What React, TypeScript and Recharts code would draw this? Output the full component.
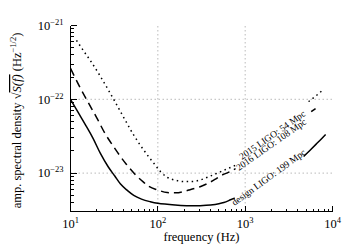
import React from 'react';
import { LineChart, Line, XAxis, YAxis, ReferenceLine, ReferenceDot } from 'recharts';

const FONT = '"Liberation Serif", "Times New Roman", Times, serif';

// axis ranges
const X_MIN = 10;
const X_MAX = 10000;
const Y_MIN = 3.02e-24;
const Y_MAX = 1e-21;

// tick positions (log axes)
const xTicks = [
  10, 20, 30, 40, 50, 60, 70, 80, 90,
  100, 200, 300, 400, 500, 600, 700, 800, 900,
  1000, 2000, 3000, 4000, 5000, 6000, 7000, 8000, 9000, 10000,
];
const yTicks = [
  4e-24, 5e-24, 6e-24, 7e-24, 8e-24, 9e-24,
  1e-23, 2e-23, 3e-23, 4e-23, 5e-23, 6e-23, 7e-23, 8e-23, 9e-23,
  1e-22, 2e-22, 3e-22, 4e-22, 5e-22, 6e-22, 7e-22, 8e-22, 9e-22, 1e-21,
];
const gridFreqs = [100, 1000];
const gridAsds = [1e-22, 1e-23];

// 2015 LIGO (dotted), split where the label sits
const o1FreqLow = [11.7, 14, 17, 21.7, 27, 33.7, 42, 52.3, 60, 69, 80, 90, 107, 128, 160, 199, 250, 308, 380, 479, 620, 780];
const o1AsdLow = [6.3e-22, 4.6e-22, 3.3e-22, 2.1e-22, 1.35e-22, 8.5e-23, 5.3e-23, 3.35e-23, 2.6e-23, 2.05e-23, 1.62e-23, 1.36e-23, 1.05e-23, 8.8e-24, 8.0e-24, 7.7e-24, 7.7e-24, 8.1e-24, 8.9e-24, 1.0e-23, 1.14e-23, 1.28e-23];
const o1FreqHigh = [5320, 6500, 7950];
const o1AsdHigh = [9.3e-23, 1.12e-22, 1.37e-22];

// 2016 LIGO (dashed)
const o2FreqLow = [10, 13, 16, 20, 25, 31, 37, 44, 55, 68, 79, 100, 128, 160, 227, 300, 368, 450, 523, 650, 776];
const o2AsdLow = [2.63e-22, 1.41e-22, 9.0e-23, 5.6e-23, 3.4e-23, 2.3e-23, 1.7e-23, 1.3e-23, 9.6e-24, 7.6e-24, 6.6e-24, 5.9e-24, 5.46e-24, 5.4e-24, 5.9e-24, 6.5e-24, 7.2e-24, 8.2e-24, 9.2e-24, 1.03e-23, 1.15e-23];
const o2FreqHigh = [5700, 6400];
const o2AsdHigh = [6.8e-23, 7.5e-23];

// design LIGO (solid)
const dsFreqLow = [10, 12, 15, 18, 22, 27, 32, 37.4, 45, 53, 65, 82, 100, 128, 170, 237, 300, 402, 500, 570, 680, 760];
const dsAsdLow = [1e-22, 6.9e-23, 4.4e-23, 3.0e-23, 1.85e-23, 1.22e-23, 9.2e-24, 7.1e-24, 5.8e-24, 5.0e-24, 4.45e-24, 4.1e-24, 3.9e-24, 3.78e-24, 3.68e-24, 3.6e-24, 3.62e-24, 3.7e-24, 3.85e-24, 4.0e-24, 4.35e-24, 4.6e-24];
const dsFreqHigh = [4670, 5500, 6500, 7400, 8340];
const dsAsdHigh = [1.68e-23, 2.03e-23, 2.47e-23, 2.88e-23, 3.34e-23];

// curve labels and where they sit (data coords)
const curveNames = ['2015 LIGO: 54 Mpc', '2016 LIGO: 108 Mpc', 'design LIGO: 199 Mpc'];
const labelFreqs = [2040, 1980, 1850];
const labelAsds = [3.3e-23, 2.45e-23, 8.8e-24];
const labelAngles = [35, 35, 36];

const pts = (f: number[], s: number[]) => f.map((x, i) => ({ f: x, s: s[i] }));

function isDecade(v: number) {
  const l = Math.log10(v);
  return Math.abs(l - Math.round(l)) < 1e-6;
}

function expText(v: number) {
  const e = Math.round(Math.log10(v));
  return e < 0 ? `\u2212${-e}` : `${e}`;
}

// snap to pixel centres so the 1px tick marks stay crisp
const px = (v: number) => Math.round(v - 0.5) + 0.5;

const txt = { fontFamily: FONT, fill: '#000' };
const tickProps = { stroke: '#000', strokeWidth: 1, shapeRendering: 'crispEdges' as const };

function BottomTick({ x, y, payload }: any) {
  const major = isDecade(payload.value);
  const sx = px(x);
  return (
    <g>
      <line x1={sx} x2={sx} y1={y} y2={y - (major ? 5.5 : 3)} {...tickProps} />
      {major && (
        <text x={x} y={y + 16.2} textAnchor="middle" style={txt} fontSize={12.5}>
          10<tspan dy={-5} fontSize={8.5}>{expText(payload.value)}</tspan>
        </text>
      )}
    </g>
  );
}

function TopTick({ x, y, payload }: any) {
  const major = isDecade(payload.value);
  const sx = px(x);
  return <line x1={sx} x2={sx} y1={y} y2={y + (major ? 5.5 : 3)} {...tickProps} />;
}

function LeftTick({ x, y, payload }: any) {
  const major = isDecade(payload.value);
  const sy = px(y);
  return (
    <g>
      <line x1={x} x2={x + (major ? 6 : 3)} y1={sy} y2={sy} {...tickProps} />
      {major && (
        <text x={x - 7} y={y + 4.3} textAnchor="end" style={txt} fontSize={12.5}>
          10<tspan dy={-5} fontSize={8.5}>{expText(payload.value)}</tspan>
        </text>
      )}
    </g>
  );
}

function RightTick({ x, y, payload }: any) {
  const major = isDecade(payload.value);
  const sy = px(y);
  return <line x1={x} x2={x - (major ? 6 : 3)} y1={sy} y2={sy} {...tickProps} />;
}

const xTitle = (props: any) => {
  const vb = props.viewBox;
  return (
    <text x={vb.x + vb.width / 2} y={vb.y + 29} textAnchor="middle" style={txt} fontSize={12.5}>
      frequency (Hz)
    </text>
  );
};

const yTitle = (props: any) => {
  const vb = props.viewBox;
  const cy = vb.y + vb.height / 2 + 2;
  return (
    <text transform={`translate(21,${cy}) rotate(-90)`} textAnchor="middle" style={txt} fontSize={12.5}>
      amp. spectral density {'\u221A'}
      <tspan style={{ textDecoration: 'overline' }} fontStyle="italic">S(f)</tspan> (Hz
      <tspan dy={-5} fontSize={8.5}>{'\u22121/2'}</tspan>
      <tspan dy={5}>)</tspan>
    </text>
  );
};

const curveLabel = (text: string, angle: number) => (p: any) => (
  <text
    transform={`translate(${p.cx},${p.cy}) rotate(${-angle})`}
    textAnchor="middle"
    dy="0.35em"
    style={txt}
    fontSize={9.5}
  >
    {text}
  </text>
);

const axisLine = { stroke: '#000', strokeWidth: 1, shapeRendering: 'crispEdges' };

export default function App() {
  const series = [
    { data: pts(o1FreqLow, o1AsdLow), dash: '1.5 3.5' },
    { data: pts(o1FreqHigh, o1AsdHigh), dash: '1.5 3.5' },
    { data: pts(o2FreqLow, o2AsdLow), dash: '8 5' },
    { data: pts(o2FreqHigh, o2AsdHigh), dash: '8 5' },
    { data: pts(dsFreqLow, dsAsdLow), dash: undefined },
    { data: pts(dsFreqHigh, dsAsdHigh), dash: undefined },
  ];

  return (
    <div style={{ position: 'absolute', left: 0, top: 0, width: 350, height: 250, background: '#fff', fontFamily: FONT }}>
      <LineChart width={350} height={250} margin={{ top: 25.5, right: 17.5, bottom: 0, left: 0 }}>
        <XAxis
          xAxisId="b"
          dataKey="f"
          type="number"
          scale="log"
          domain={[X_MIN, X_MAX]}
          allowDataOverflow
          ticks={xTicks}
          interval={0}
          tickSize={0}
          tickMargin={0}
          tickLine={false}
          tick={BottomTick}
          stroke="#000"
          axisLine={axisLine}
          height={38.5}
          label={xTitle}
        />
        <XAxis
          xAxisId="t"
          orientation="top"
          dataKey="f"
          type="number"
          scale="log"
          domain={[X_MIN, X_MAX]}
          allowDataOverflow
          ticks={xTicks}
          interval={0}
          tickSize={0}
          tickMargin={0}
          tickLine={false}
          tick={TopTick}
          stroke="#000"
          axisLine={axisLine}
          height={0}
        />
        <YAxis
          yAxisId="l"
          type="number"
          scale="log"
          domain={[Y_MIN, Y_MAX]}
          allowDataOverflow
          ticks={yTicks}
          interval={0}
          tickSize={0}
          tickMargin={0}
          tickLine={false}
          tick={LeftTick}
          stroke="#000"
          axisLine={axisLine}
          width={70.5}
          label={yTitle}
        />
        <YAxis
          yAxisId="r"
          orientation="right"
          type="number"
          scale="log"
          domain={[Y_MIN, Y_MAX]}
          allowDataOverflow
          ticks={yTicks}
          interval={0}
          tickSize={0}
          tickMargin={0}
          tickLine={false}
          tick={RightTick}
          stroke="#000"
          axisLine={axisLine}
          width={0}
        />
        {gridFreqs.map((f) => (
          <ReferenceLine key={`gx${f}`} xAxisId="b" yAxisId="l" x={f} stroke="#a8a8a8" strokeWidth={0.8} strokeDasharray="1.5 2.5" />
        ))}
        {gridAsds.map((s) => (
          <ReferenceLine key={`gy${s}`} xAxisId="b" yAxisId="l" y={s} stroke="#a8a8a8" strokeWidth={0.8} strokeDasharray="1.5 2.5" />
        ))}
        {series.map((s, i) => (
          <Line
            key={i}
            xAxisId="b"
            yAxisId="l"
            data={s.data}
            dataKey="s"
            type="monotone"
            stroke="#000"
            strokeWidth={1.5}
            strokeDasharray={s.dash}
            dot={false}
            activeDot={false}
            isAnimationActive={false}
          />
        ))}
        {curveNames.map((name, i) => (
          <ReferenceDot
            key={name}
            xAxisId="b"
            yAxisId="l"
            x={labelFreqs[i]}
            y={labelAsds[i]}
            r={0}
            shape={curveLabel(name, labelAngles[i])}
          />
        ))}
      </LineChart>
    </div>
  );
}
